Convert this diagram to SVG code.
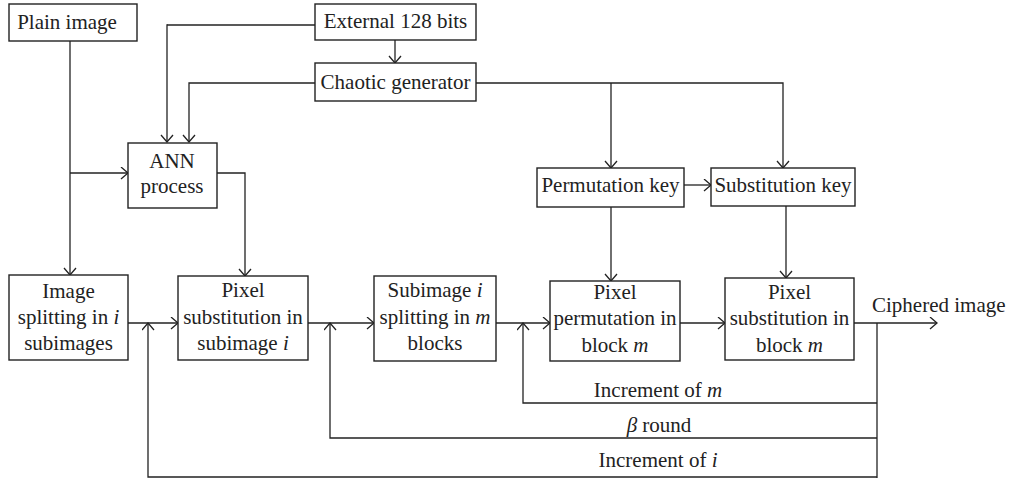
<svg xmlns="http://www.w3.org/2000/svg" width="1009" height="479" viewBox="0 0 1009 479">
<style>
rect.box{fill:#fff;stroke:#222;stroke-width:1.4}
text{font-family:"Liberation Serif","Times New Roman",serif;font-size:21px;fill:#222}
text.c{text-anchor:middle}
.it{font-style:italic}
#connectors path,#connectors line{fill:none;stroke:#222;stroke-width:1.3}
</style>
<defs>
<marker id="arr" markerUnits="userSpaceOnUse" markerWidth="12" markerHeight="14" refX="8" refY="6.5" orient="auto">
<path d="M1,0.5 L8,6.5 L1,12.5" fill="none" stroke="#222" stroke-width="1.3"/>
</marker>
</defs>
<g id="connectors">
<line x1="315" y1="25" x2="167" y2="25"/>
<line x1="167" y1="24.35" x2="167" y2="142" marker-end="url(#arr)"/>
<line x1="395" y1="40" x2="395" y2="63" marker-end="url(#arr)"/>
<path d="M315,83 H189 V142" marker-end="url(#arr)"/>
<path d="M476,83 H783 V168" marker-end="url(#arr)"/>
<line x1="611" y1="83" x2="611" y2="168" marker-end="url(#arr)"/>
<line x1="684" y1="185" x2="711" y2="185" marker-end="url(#arr)"/>
<line x1="611" y1="207" x2="611" y2="281" marker-end="url(#arr)"/>
<line x1="786" y1="206" x2="786" y2="278" marker-end="url(#arr)"/>
<line x1="70" y1="41" x2="70" y2="275" marker-end="url(#arr)"/>
<line x1="70" y1="173" x2="128" y2="173" marker-end="url(#arr)"/>
<path d="M217,173 H245 V276" marker-end="url(#arr)"/>
<line x1="128" y1="323" x2="178" y2="323" marker-end="url(#arr)"/>
<line x1="308" y1="323" x2="374" y2="323" marker-end="url(#arr)"/>
<line x1="496" y1="323" x2="550" y2="323" marker-end="url(#arr)"/>
<line x1="680" y1="323" x2="725" y2="323" marker-end="url(#arr)"/>
<line x1="854" y1="323" x2="937" y2="323" marker-end="url(#arr)"/>
<line x1="877" y1="323" x2="877" y2="478"/>
<path d="M877,403 H523 V323" marker-end="url(#arr)"/>
<path d="M877,438 H330 V323" marker-end="url(#arr)"/>
<path d="M877,477 H148 V323" marker-end="url(#arr)"/>
</g>
<g id="plain-image"><rect class="box" x="9" y="4" width="128" height="37"/><text class="c" x="67" y="29">Plain image</text></g>
<g id="external-bits"><rect class="box" x="315" y="4" width="161" height="36"/><text class="c" x="395.5" y="28">External 128 bits</text></g>
<g id="chaotic-generator"><rect class="box" x="315" y="63" width="161" height="38"/><text class="c" x="395.5" y="89">Chaotic generator</text></g>
<g id="ann-process"><rect class="box" x="128" y="143" width="89" height="65"/><text class="c" x="172" y="168">ANN</text><text class="c" x="172" y="193">process</text></g>
<g id="permutation-key"><rect class="box" x="537" y="168" width="147" height="39"/><text class="c" x="610.5" y="192">Permutation key</text></g>
<g id="substitution-key"><rect class="box" x="711" y="168" width="144" height="38"/><text class="c" x="783" y="192">Substitution key</text></g>
<g id="image-splitting"><rect class="box" x="9" y="275" width="119" height="85"/><text class="c" x="68.5" y="298">Image</text><text class="c" x="68.5" y="324">splitting in <tspan class="it">i</tspan></text><text class="c" x="68.5" y="350">subimages</text></g>
<g id="pixel-sub-subimage"><rect class="box" x="178" y="276" width="130" height="84"/><text class="c" x="243" y="297">Pixel</text><text class="c" x="243" y="324">substitution in</text><text class="c" x="243" y="350">subimage <tspan class="it">i</tspan></text></g>
<g id="subimage-splitting"><rect class="box" x="374" y="276" width="122" height="85"/><text class="c" x="435" y="297">Subimage <tspan class="it">i</tspan></text><text class="c" x="435" y="324">splitting in <tspan class="it">m</tspan></text><text class="c" x="435" y="350">blocks</text></g>
<g id="pixel-permutation"><rect class="box" x="550" y="281" width="130" height="80"/><text class="c" x="615" y="299">Pixel</text><text class="c" x="615" y="325">permutation in</text><text class="c" x="615" y="352">block <tspan class="it">m</tspan></text></g>
<g id="pixel-sub-block"><rect class="box" x="725" y="278" width="129" height="82"/><text class="c" x="789.5" y="299">Pixel</text><text class="c" x="789.5" y="325">substitution in</text><text class="c" x="789.5" y="352">block <tspan class="it">m</tspan></text></g>
<g id="labels">
<text x="872" y="312">Ciphered image</text>
<text class="c" x="658" y="397">Increment of <tspan class="it">m</tspan></text>
<text class="c" x="659" y="432"><tspan class="it">β</tspan> round</text>
<text class="c" x="658" y="467">Increment of <tspan class="it">i</tspan></text>
</g>
</svg>
